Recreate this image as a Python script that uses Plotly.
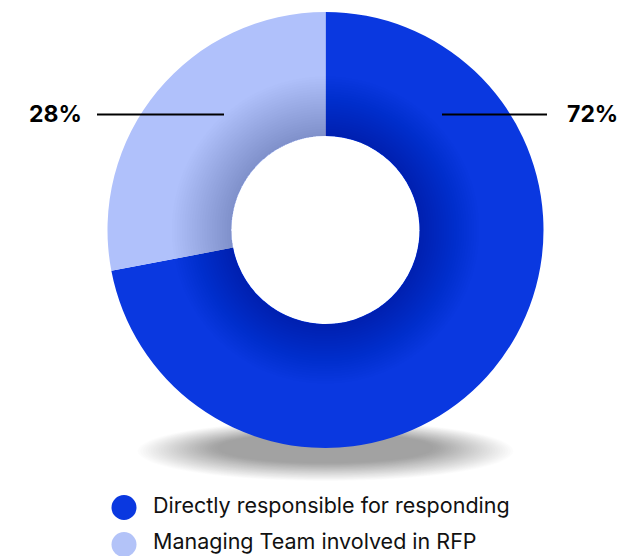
import plotly.graph_objects as go

# Share of respondents by role in the RFP process
categories = ["Directly responsible for responding", "Managing Team involved in RFP"]
shares = [72, 28]
colors = ["#0a38e0", "#b0c1fb"]

W, H = 625, 556
cx, cy = 325.5, 230.0      # donut centre in pixels (from top-left)
r_out, r_in = 218.0, 94.0  # outer / inner radius in pixels


def dom(r):
    """Square pie domain of radius r (pixels) around the donut centre."""
    return dict(x=[(cx - r) / W, (cx + r) / W],
                y=[1 - (cy + r) / H, 1 - (cy - r) / H])


fig = go.Figure()

fig.add_trace(go.Pie(
    labels=categories, values=shares, hole=r_in / r_out,
    sort=False, direction="clockwise", rotation=0,
    marker=dict(colors=colors, line=dict(width=0)),
    textinfo="none", hoverinfo="label+percent", showlegend=False,
    domain=dom(r_out),
))

# soft inner shading around the hole, built from thin translucent rings
for i in range(24):
    r = r_in + 2.5 * (i + 1)
    fig.add_trace(go.Pie(
        values=[1], hole=r_in / r, sort=False,
        marker=dict(colors=["rgba(0,8,50,0.0085)"], line=dict(width=0)),
        textinfo="none", hoverinfo="skip", showlegend=False,
        domain=dom(r),
    ))

shapes = []
# blurred floor shadow under the donut
n = 32
for i in range(n):
    t = i / (n - 1)
    rx = 188 - 80 * t
    ry = 30 - 15 * t
    ey = 451 - 3 * t
    shapes.append(dict(
        type="circle", xref="paper", yref="paper", layer="below",
        x0=(cx - rx) / W, x1=(cx + rx) / W,
        y0=1 - (ey + ry) / H, y1=1 - (ey - ry) / H,
        fillcolor="rgba(0,0,0,0.012)", line=dict(width=0),
    ))

# leader lines for the percentage labels
line_y = 1 - 114.5 / H
shapes.append(dict(type="line", xref="paper", yref="paper",
                   x0=442 / W, x1=547 / W, y0=line_y, y1=line_y,
                   line=dict(color="#000000", width=2)))
shapes.append(dict(type="line", xref="paper", yref="paper",
                   x0=97 / W, x1=224 / W, y0=line_y, y1=line_y,
                   line=dict(color="#000000", width=2)))

annotations = [
    dict(text=f"<b>{shares[0]}%</b>", x=565 / W, y=line_y, xref="paper", yref="paper",
         xanchor="left", yanchor="middle", showarrow=False,
         font=dict(family="Inter", size=23, color="#000000")),
    dict(text=f"<b>{shares[1]}%</b>", x=84 / W, y=line_y, xref="paper", yref="paper",
         xanchor="right", yanchor="middle", showarrow=False,
         font=dict(family="Inter", size=23, color="#000000")),
]

# legend with round swatches
swatch_rows = [507.5, 544.5]
text_rows = [504.5, 541.0]
for name, col, sy, ty in zip(categories, ["#0a38e0", "#b3c3f8"], swatch_rows, text_rows):
    rr = 12.5
    shapes.append(dict(type="circle", xref="paper", yref="paper",
                       x0=(124 - rr) / W, x1=(124 + rr) / W,
                       y0=1 - (sy + rr) / H, y1=1 - (sy - rr) / H,
                       fillcolor=col, line=dict(width=0)))
    annotations.append(dict(text=name, x=151 / W, y=1 - ty / H, xref="paper", yref="paper",
                            xanchor="left", yanchor="middle", showarrow=False,
                            font=dict(family="Inter", size=21.5, color="#111111")))

fig.update_layout(
    width=W, height=H, margin=dict(l=0, r=0, t=0, b=0),
    paper_bgcolor="white", plot_bgcolor="white",
    shapes=shapes, annotations=annotations,
)

fig.write_html("out.html")
